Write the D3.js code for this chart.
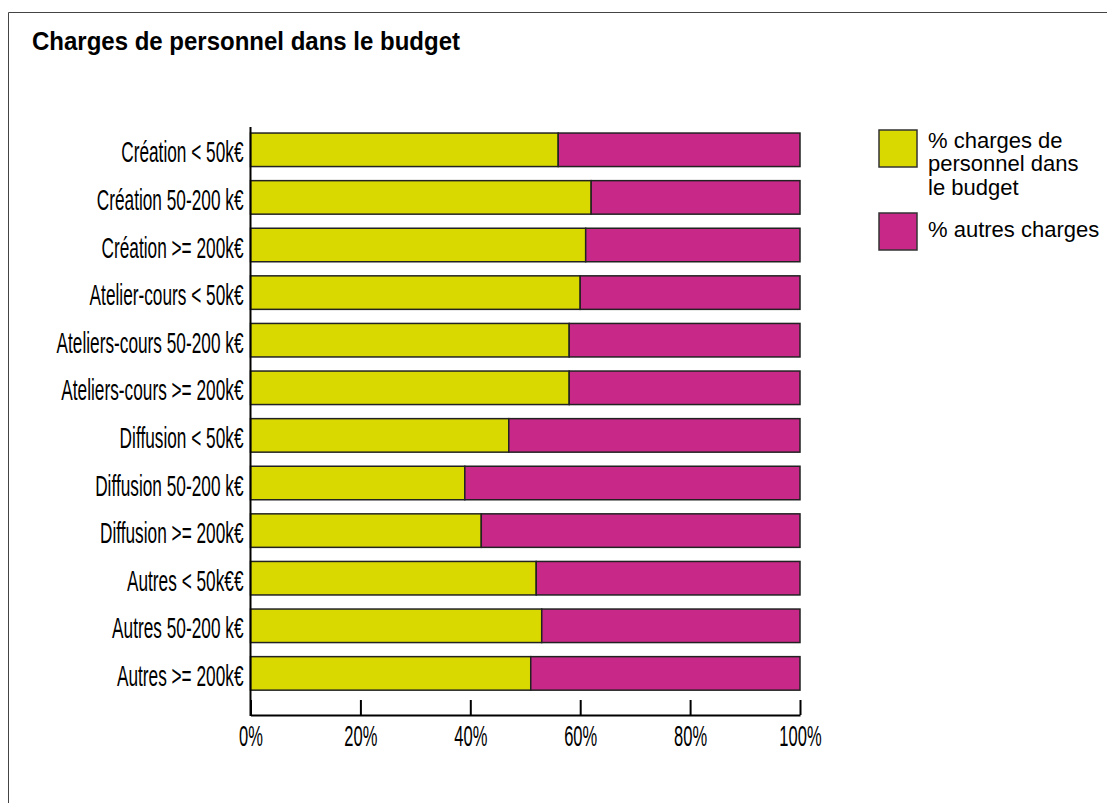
<!DOCTYPE html>
<html>
<head>
<meta charset="utf-8">
<script src="https://cdn.jsdelivr.net/npm/d3@7"></script>
<style>
  html, body { margin: 0; padding: 0; background: #fff; }
  svg { display: block; }
  text { font-family: "Liberation Sans", Arial, sans-serif; fill: #000; }
</style>
</head>
<body>
<svg id="chart" width="1107" height="803"></svg>
<script>
const title = "Charges de personnel dans le budget";
const categories = [
  "Création < 50k€",
  "Création 50-200 k€",
  "Création >= 200k€",
  "Atelier-cours < 50k€",
  "Ateliers-cours 50-200 k€",
  "Ateliers-cours >= 200k€",
  "Diffusion < 50k€",
  "Diffusion 50-200 k€",
  "Diffusion >= 200k€",
  "Autres < 50k€€",
  "Autres 50-200 k€",
  "Autres >= 200k€"
];
const personnel = [56, 62, 61, 60, 58, 58, 47, 39, 42, 52, 53, 51];
const autres = [44, 38, 39, 40, 42, 42, 53, 61, 58, 48, 47, 49];
const seriesNames = ["% charges de personnel dans le budget", "% autres charges"];
const legendLines = [["% charges de", "personnel dans", "le budget"], ["% autres charges"]];
const seriesColors = ["#d9d900", "#c82888"];
const tickValues = [0, 20, 40, 60, 80, 100];

const svg = d3.select("#chart");

// frame
svg.append("path")
  .attr("d", "M8.5,803 L8.5,12.5 L1107,12.5")
  .attr("fill", "none").attr("stroke", "#444").attr("stroke-width", 1);

// title
svg.append("text")
  .attr("transform", "translate(32,50) scale(0.96,1)")
  .style("font-size", "25px").style("font-weight", "bold")
  .text(title);

const axisY = 715;
const x = d3.scaleLinear().domain([0, 100]).range([250.5, 800]);
const y = d3.scaleBand().domain(categories).range([126, 697.2])
  .paddingInner(0.296).paddingOuter(0.148);

const data = categories.map((c, i) => ({ cat: c, vals: [personnel[i], autres[i]] }));
const stack = d3.stack().keys([0, 1]).value((d, k) => d.vals[k]);
const stacked = stack(data);

const gBars = svg.append("g");
stacked.forEach((layer, k) => {
  gBars.selectAll(null).data(layer).enter().append("rect")
    .attr("x", d => x(d[0]))
    .attr("y", d => y(d.data.cat))
    .attr("width", d => x(d[1]) - x(d[0]))
    .attr("height", y.bandwidth())
    .attr("fill", seriesColors[k])
    .attr("stroke", "#222")
    .attr("stroke-width", 1.5);
});

// x axis
const xAxis = d3.axisBottom(x).tickValues(tickValues)
  .tickFormat(d => d + "%").tickSize(-15).tickSizeOuter(0);
const gx = svg.append("g").attr("transform", `translate(0,${axisY})`).call(xAxis);
gx.select(".domain").attr("stroke", "#000").attr("stroke-width", 2);
gx.selectAll(".tick line").attr("stroke", "#000").attr("stroke-width", 2);
gx.selectAll(".tick text")
  .attr("y", 31).attr("dy", 0)
  .attr("transform", "scale(0.57,1)")
  .style("font-size", "29px").style("font-family", "Liberation Sans, Arial, sans-serif")
  .attr("fill", "#000");

// y axis
const yAxis = d3.axisLeft(y).tickSize(0).tickSizeOuter(0);
const gy = svg.append("g").attr("transform", `translate(${x(0)},0)`).call(yAxis);
gy.select(".domain").remove();
gy.selectAll(".tick text")
  .attr("x", -7 / 0.595).attr("y", 12.5).attr("dy", 0)
  .attr("transform", "scale(0.595,1)")
  .style("font-size", "29px").style("font-family", "Liberation Sans, Arial, sans-serif")
  .attr("fill", "#000");
svg.append("line")
  .attr("x1", x(0)).attr("x2", x(0))
  .attr("y1", 127).attr("y2", axisY + 1)
  .attr("stroke", "#000").attr("stroke-width", 2);

// legend
const legend = svg.append("g").attr("transform", "translate(879,130)");
const legendOffsets = [0, 83];
const legendTextY = [17.5, 24];
seriesNames.forEach((name, k) => {
  const g = legend.append("g").attr("transform", `translate(0,${legendOffsets[k]})`);
  g.append("rect").attr("x", 0).attr("y", 0).attr("width", 38).attr("height", 37)
    .attr("fill", seriesColors[k]).attr("stroke", "#333").attr("stroke-width", 1.5);
  const t = g.append("text").style("font-size", "22px");
  legendLines[k].forEach((line, j) => {
    t.append("tspan").attr("x", 49).attr("y", legendTextY[k] + j * 23.5).text(line);
  });
});
</script>
</body>
</html>
